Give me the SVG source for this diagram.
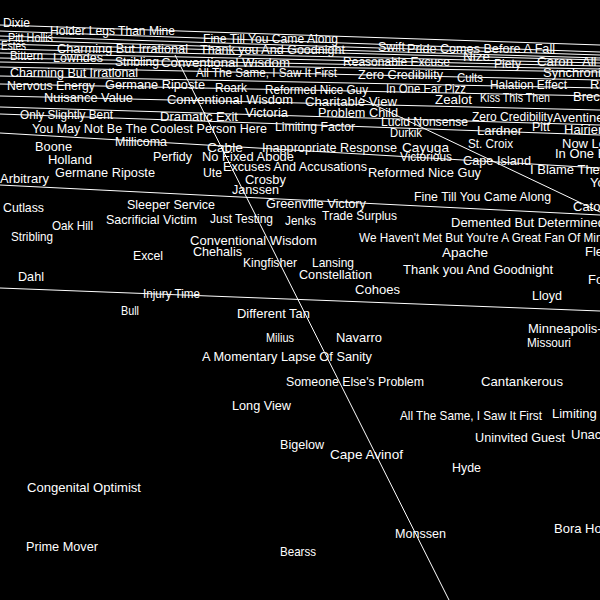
<svg xmlns="http://www.w3.org/2000/svg" width="600" height="600" viewBox="0 0 600 600">
<style>
text{fill:#fff;font-family:"Liberation Sans",Arial,sans-serif;font-size:13px}
.ln{stroke:#fff;stroke-width:1;fill:none}
</style>
<rect x="0" y="0" width="600" height="600" fill="#000"/>
<g id="connectors">
<line class="ln" x1="0" y1="25" x2="600" y2="45"/>
<line class="ln" x1="0" y1="31" x2="600" y2="52"/>
<line class="ln" x1="0" y1="36" x2="600" y2="55"/>
<line class="ln" x1="0" y1="40" x2="600" y2="58"/>
<line class="ln" x1="0" y1="44" x2="600" y2="60"/>
<line class="ln" x1="0" y1="49" x2="600" y2="63"/>
<line class="ln" x1="0" y1="53" x2="600" y2="66"/>
<line class="ln" x1="0" y1="58" x2="600" y2="69"/>
<line class="ln" x1="0" y1="62" x2="600" y2="72"/>
<line class="ln" x1="0" y1="67" x2="600" y2="80"/>
<line class="ln" x1="0" y1="76" x2="600" y2="88"/>
<line class="ln" x1="0" y1="84" x2="600" y2="96"/>
<line class="ln" x1="0" y1="96" x2="600" y2="110"/>
<line class="ln" x1="0" y1="107" x2="600" y2="125"/>
<line class="ln" x1="0" y1="114" x2="600" y2="135"/>
<line class="ln" x1="0" y1="133" x2="600" y2="168"/>
<line class="ln" x1="0" y1="185" x2="600" y2="215"/>
<line class="ln" x1="0" y1="288" x2="600" y2="311"/>
<line class="ln" x1="175" y1="55" x2="449" y2="600"/>
<line class="ln" x1="360" y1="98" x2="600" y2="212"/>
</g>
<g id="labels">
<text x="3" y="27" textLength="27" lengthAdjust="spacingAndGlyphs">Dixie</text>
<text x="50" y="35" textLength="125" lengthAdjust="spacingAndGlyphs">Holder Legs Than Mine</text>
<text x="8" y="42" textLength="45" lengthAdjust="spacingAndGlyphs">Pitt Hollis</text>
<text x="203" y="43" textLength="135" lengthAdjust="spacingAndGlyphs">Fine Till You Came Along</text>
<text x="1" y="50" textLength="25" lengthAdjust="spacingAndGlyphs">Estes</text>
<text x="57" y="53" textLength="131" lengthAdjust="spacingAndGlyphs">Charming But Irrational</text>
<text x="200" y="54" textLength="145" lengthAdjust="spacingAndGlyphs">Thank you And Goodnight</text>
<text x="378" y="51" textLength="27" lengthAdjust="spacingAndGlyphs">Swift</text>
<text x="407" y="53" textLength="148" lengthAdjust="spacingAndGlyphs">Pride Comes Before A Fall</text>
<text x="10" y="60" textLength="33" lengthAdjust="spacingAndGlyphs">Bittern</text>
<text x="53" y="62" textLength="50" lengthAdjust="spacingAndGlyphs">Lowndes</text>
<text x="115" y="66" textLength="44" lengthAdjust="spacingAndGlyphs">Stribling</text>
<text x="161" y="67" textLength="129" lengthAdjust="spacingAndGlyphs">Conventional Wisdom</text>
<text x="343" y="66" textLength="107" lengthAdjust="spacingAndGlyphs">Reasonable Excuse</text>
<text x="463" y="61" textLength="27" lengthAdjust="spacingAndGlyphs">Nize</text>
<text x="494" y="68" textLength="27" lengthAdjust="spacingAndGlyphs">Piety</text>
<text x="537" y="66" textLength="36" lengthAdjust="spacingAndGlyphs">Caron</text>
<text x="582" y="66">All T</text>
<text x="10" y="77" textLength="128" lengthAdjust="spacingAndGlyphs">Charming But Irrational</text>
<text x="196" y="77" textLength="141" lengthAdjust="spacingAndGlyphs">All The Same, I Saw It First</text>
<text x="358" y="79" textLength="85" lengthAdjust="spacingAndGlyphs">Zero Credibility</text>
<text x="457" y="82" textLength="26" lengthAdjust="spacingAndGlyphs">Cults</text>
<text x="543" y="77">Synchronize</text>
<text x="7" y="90" textLength="88" lengthAdjust="spacingAndGlyphs">Nervous Energy</text>
<text x="105" y="89" textLength="100" lengthAdjust="spacingAndGlyphs">Germane Riposte</text>
<text x="215" y="92" textLength="32" lengthAdjust="spacingAndGlyphs">Roark</text>
<text x="265" y="94" textLength="103" lengthAdjust="spacingAndGlyphs">Reformed Nice Guy</text>
<text x="386" y="93" textLength="80" lengthAdjust="spacingAndGlyphs">In One Ear Pizz</text>
<text x="490" y="89" textLength="77" lengthAdjust="spacingAndGlyphs">Halation Effect</text>
<text x="590" y="89">Re</text>
<text x="44" y="102" textLength="89" lengthAdjust="spacingAndGlyphs">Nuisance Value</text>
<text x="167" y="104" textLength="126" lengthAdjust="spacingAndGlyphs">Conventional Wisdom</text>
<text x="305" y="106" textLength="92" lengthAdjust="spacingAndGlyphs">Charitable View</text>
<text x="435" y="104" textLength="37" lengthAdjust="spacingAndGlyphs">Zealot</text>
<text x="480" y="102" textLength="70" lengthAdjust="spacingAndGlyphs">Kiss This Then</text>
<text x="573" y="101">Breckinridge</text>
<text x="20" y="119" textLength="93" lengthAdjust="spacingAndGlyphs">Only Slightly Bent</text>
<text x="160" y="121" textLength="78" lengthAdjust="spacingAndGlyphs">Dramatic Exit</text>
<text x="245" y="117" textLength="43" lengthAdjust="spacingAndGlyphs">Victoria</text>
<text x="318" y="117" textLength="80" lengthAdjust="spacingAndGlyphs">Problem Child</text>
<text x="381" y="126" textLength="87" lengthAdjust="spacingAndGlyphs">Lucid Nonsense</text>
<text x="472" y="121" textLength="81" lengthAdjust="spacingAndGlyphs">Zero Credibility</text>
<text x="553" y="122">Aventine</text>
<text x="32" y="133" textLength="235" lengthAdjust="spacingAndGlyphs">You May Not Be The Coolest Person Here</text>
<text x="275" y="131" textLength="80" lengthAdjust="spacingAndGlyphs">Limiting Factor</text>
<text x="390" y="137" textLength="32" lengthAdjust="spacingAndGlyphs">Durkik</text>
<text x="477" y="135" textLength="45" lengthAdjust="spacingAndGlyphs">Lardner</text>
<text x="532" y="131" textLength="18" lengthAdjust="spacingAndGlyphs">Pitt</text>
<text x="564" y="134">Hairien</text>
<text x="115" y="146" textLength="52" lengthAdjust="spacingAndGlyphs">Millicoma</text>
<text x="35" y="151" textLength="37" lengthAdjust="spacingAndGlyphs">Boone</text>
<text x="468" y="148" textLength="45" lengthAdjust="spacingAndGlyphs">St. Croix</text>
<text x="562" y="148">Now Look</text>
<text x="207" y="152" textLength="36" lengthAdjust="spacingAndGlyphs">Cable</text>
<text x="262" y="152" textLength="135" lengthAdjust="spacingAndGlyphs">Inappropriate Response</text>
<text x="402" y="152" textLength="47" lengthAdjust="spacingAndGlyphs">Cayuga</text>
<text x="555" y="158">In One Ear</text>
<text x="153" y="161" textLength="39" lengthAdjust="spacingAndGlyphs">Perfidy</text>
<text x="202" y="161" textLength="92" lengthAdjust="spacingAndGlyphs">No Fixed Abode</text>
<text x="400" y="161" textLength="52" lengthAdjust="spacingAndGlyphs">Victorious</text>
<text x="48" y="164" textLength="44" lengthAdjust="spacingAndGlyphs">Holland</text>
<text x="463" y="165" textLength="68" lengthAdjust="spacingAndGlyphs">Cape Island</text>
<text x="530" y="174">I Blame The Parents</text>
<text x="223" y="171" textLength="144" lengthAdjust="spacingAndGlyphs">Excuses And Accusations</text>
<text x="55" y="177" textLength="100" lengthAdjust="spacingAndGlyphs">Germane Riposte</text>
<text x="203" y="177" textLength="19" lengthAdjust="spacingAndGlyphs">Ute</text>
<text x="368" y="177" textLength="113" lengthAdjust="spacingAndGlyphs">Reformed Nice Guy</text>
<text x="0" y="183" textLength="49" lengthAdjust="spacingAndGlyphs">Arbitrary</text>
<text x="245" y="184" textLength="41" lengthAdjust="spacingAndGlyphs">Crosby</text>
<text x="590" y="187">Yo</text>
<text x="232" y="194" textLength="47" lengthAdjust="spacingAndGlyphs">Janssen</text>
<text x="414" y="201" textLength="137" lengthAdjust="spacingAndGlyphs">Fine Till You Came Along</text>
<text x="127" y="209" textLength="88" lengthAdjust="spacingAndGlyphs">Sleeper Service</text>
<text x="266" y="208" textLength="100" lengthAdjust="spacingAndGlyphs">Greenville Victory</text>
<text x="3" y="212" textLength="41" lengthAdjust="spacingAndGlyphs">Cutlass</text>
<text x="573" y="211">Catoctin</text>
<text x="322" y="220" textLength="75" lengthAdjust="spacingAndGlyphs">Trade Surplus</text>
<text x="210" y="223" textLength="63" lengthAdjust="spacingAndGlyphs">Just Testing</text>
<text x="106" y="224" textLength="91" lengthAdjust="spacingAndGlyphs">Sacrificial Victim</text>
<text x="285" y="225" textLength="31" lengthAdjust="spacingAndGlyphs">Jenks</text>
<text x="451" y="227">Demented But Determined</text>
<text x="52" y="230" textLength="41" lengthAdjust="spacingAndGlyphs">Oak Hill</text>
<text x="11" y="241" textLength="42" lengthAdjust="spacingAndGlyphs">Stribling</text>
<text x="359" y="242" textLength="250" lengthAdjust="spacingAndGlyphs">We Haven't Met But You're A Great Fan Of Mine</text>
<text x="190" y="245" textLength="127" lengthAdjust="spacingAndGlyphs">Conventional Wisdom</text>
<text x="193" y="256" textLength="49" lengthAdjust="spacingAndGlyphs">Chehalis</text>
<text x="585" y="256">Fle</text>
<text x="442" y="257" textLength="46" lengthAdjust="spacingAndGlyphs">Apache</text>
<text x="133" y="260" textLength="30" lengthAdjust="spacingAndGlyphs">Excel</text>
<text x="243" y="267" textLength="54" lengthAdjust="spacingAndGlyphs">Kingfisher</text>
<text x="312" y="267" textLength="42" lengthAdjust="spacingAndGlyphs">Lansing</text>
<text x="403" y="274" textLength="150" lengthAdjust="spacingAndGlyphs">Thank you And Goodnight</text>
<text x="299" y="279" textLength="73" lengthAdjust="spacingAndGlyphs">Constellation</text>
<text x="18" y="281" textLength="26" lengthAdjust="spacingAndGlyphs">Dahl</text>
<text x="588" y="284">Fo</text>
<text x="355" y="294" textLength="45" lengthAdjust="spacingAndGlyphs">Cohoes</text>
<text x="143" y="298" textLength="57" lengthAdjust="spacingAndGlyphs">Injury Time</text>
<text x="532" y="300" textLength="30" lengthAdjust="spacingAndGlyphs">Lloyd</text>
<text x="121" y="315" textLength="18" lengthAdjust="spacingAndGlyphs">Bull</text>
<text x="237" y="318" textLength="73" lengthAdjust="spacingAndGlyphs">Different Tan</text>
<text x="528" y="333">Minneapolis-Saint Paul</text>
<text x="266" y="342" textLength="28" lengthAdjust="spacingAndGlyphs">Milius</text>
<text x="336" y="342" textLength="46" lengthAdjust="spacingAndGlyphs">Navarro</text>
<text x="527" y="347" textLength="44" lengthAdjust="spacingAndGlyphs">Missouri</text>
<text x="202" y="361" textLength="170" lengthAdjust="spacingAndGlyphs">A Momentary Lapse Of Sanity</text>
<text x="286" y="386" textLength="138" lengthAdjust="spacingAndGlyphs">Someone Else's Problem</text>
<text x="481" y="386" textLength="82" lengthAdjust="spacingAndGlyphs">Cantankerous</text>
<text x="232" y="410" textLength="59" lengthAdjust="spacingAndGlyphs">Long View</text>
<text x="552" y="418">Limiting Factor</text>
<text x="400" y="420" textLength="142" lengthAdjust="spacingAndGlyphs">All The Same, I Saw It First</text>
<text x="571" y="439">Unacceptable Behaviour</text>
<text x="475" y="442" textLength="90" lengthAdjust="spacingAndGlyphs">Uninvited Guest</text>
<text x="280" y="449" textLength="44" lengthAdjust="spacingAndGlyphs">Bigelow</text>
<text x="330" y="459" textLength="73" lengthAdjust="spacingAndGlyphs">Cape Avinof</text>
<text x="452" y="472" textLength="29" lengthAdjust="spacingAndGlyphs">Hyde</text>
<text x="27" y="492" textLength="114" lengthAdjust="spacingAndGlyphs">Congenital Optimist</text>
<text x="554" y="533">Bora Horza Gobuchul</text>
<text x="395" y="538" textLength="51" lengthAdjust="spacingAndGlyphs">Monssen</text>
<text x="26" y="551" textLength="72" lengthAdjust="spacingAndGlyphs">Prime Mover</text>
<text x="280" y="556" textLength="36" lengthAdjust="spacingAndGlyphs">Bearss</text>
</g>
</svg>
